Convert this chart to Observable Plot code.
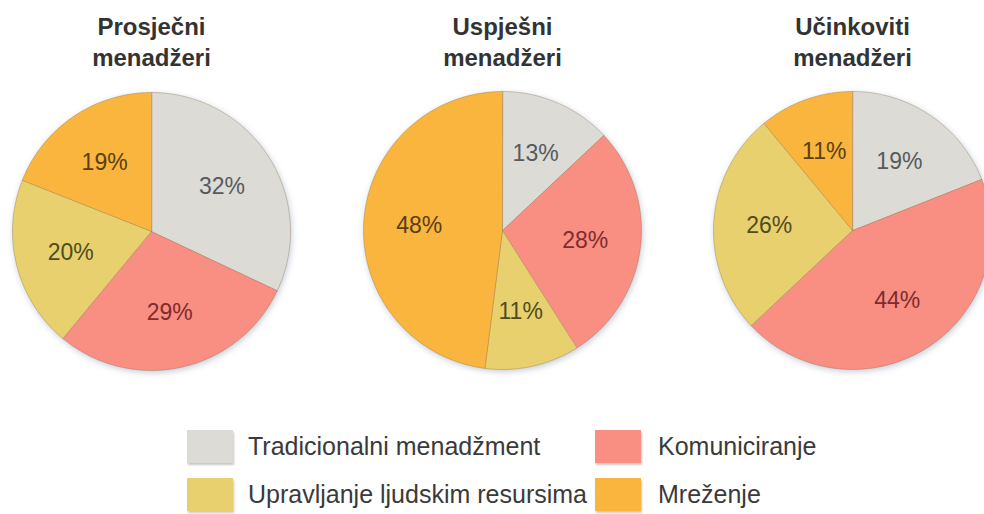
<!DOCTYPE html>
<html>
<head>
<meta charset="utf-8">
<script src="https://cdn.jsdelivr.net/npm/d3@7"></script>
<script src="https://cdn.jsdelivr.net/npm/@observablehq/plot@0.6"></script>
<style>
  html, body { margin: 0; padding: 0; background: #fff; }
  body { width: 984px; height: 514px; overflow: hidden; font-family: "Liberation Sans", Arial, sans-serif; }
  #legend { position: relative; width: 984px; height: 100px; }
  .sw { position: absolute; width: 46px; height: 33px; box-shadow: 1px 2px 2px rgba(0,0,0,0.22); }
  .lb { position: absolute; font-size: 25px; color: #3a3a3a; line-height: 33px; white-space: nowrap; }
</style>
</head>
<body>
<div id="chart"></div>
<div id="legend"></div>
<script>
// ---- data ----
const categories = ["Tradicionalni menadžment", "Komuniciranje", "Upravljanje ljudskim resursima", "Mreženje"];
const groupTitles = ["Prosječni\nmenadžeri", "Uspješni\nmenadžeri", "Učinkoviti\nmenadžeri"];
const prosjecni = [32, 29, 20, 19];
const uspjesni = [13, 28, 11, 48];
const ucinkoviti = [19, 44, 26, 11];
const seriesValues = [prosjecni, uspjesni, ucinkoviti];

// ---- styles / layout ----
const colors = ["#dcdbd6", "#f98e83", "#e8d06e", "#f9b53e"];
const labelColors = ["#555a5e", "#7e2c2c", "#514b1e", "#5a4012"];
const centers = [[151, 231], [502, 230], [852, 230]];
const R = 139;
const W = 984, H = 414;

const pie = d3.pie().sort(null).value(d => d.value).startAngle(0).endAngle(2 * Math.PI);

const slicePts = [];
const labels = [];
const titles = [];
seriesValues.forEach((vals, gi) => {
  const [cx, cy] = centers[gi];
  const rows = vals.map((v, i) => ({category: categories[i], value: v, idx: i}));
  const arcs = pie(rows);
  arcs.forEach(a => {
    const key = gi + "-" + a.data.idx;
    slicePts.push({key, category: a.data.category, x: cx, y: cy});
    const n = Math.max(2, Math.ceil((a.endAngle - a.startAngle) / (Math.PI / 180)));
    for (let k = 0; k <= n; k++) {
      const t = a.startAngle + (a.endAngle - a.startAngle) * k / n;
      slicePts.push({key, category: a.data.category, x: cx + R * Math.sin(t), y: cy - R * Math.cos(t)});
    }
    const m = (a.startAngle + a.endAngle) / 2;
    labels.push({
      x: cx + 0.6 * R * Math.sin(m),
      y: cy - 0.6 * R * Math.cos(m),
      text: a.data.value + "%",
      color: labelColors[a.data.idx]
    });
  });
  titles.push({x: cx, y: 40, text: groupTitles[gi]});
});

const chart = Plot.plot({
  width: W,
  height: H,
  margin: 0,
  style: {background: "#fff", fontFamily: "'Liberation Sans', Arial, sans-serif", overflow: "visible"},
  x: {domain: [0, W], range: [0, W], axis: null},
  y: {domain: [0, H], range: [0, H], axis: null},
  color: {domain: categories, range: colors},
  marks: [
    Plot.line(slicePts, {
      x: "x", y: "y", z: "key", fill: "category",
      curve: "linear-closed",
      stroke: "#8a6a40", strokeOpacity: 0.35, strokeWidth: 1
    }),
    Plot.text(labels, {
      x: "x", y: "y", text: "text", fill: d => d.color,
      fontSize: 23, textAnchor: "middle", lineAnchor: "middle"
    }),
    Plot.text(titles, {
      x: "x", y: "y", text: "text", fill: "#333",
      fontSize: 24, fontWeight: "bold", textAnchor: "middle",
      lineAnchor: "middle", lineHeight: 1.3
    })
  ]
});
document.getElementById("chart").appendChild(chart);

// soft shadow on pies
const lineGroup = chart.querySelector('g[aria-label="line"]');
if (lineGroup) lineGroup.style.filter = "drop-shadow(1px 2px 3px rgba(90,110,140,0.35))";

// ---- legend ----
const legend = document.getElementById("legend");
const legendPos = [
  {sx: 187, tx: 248, top: 16},
  {sx: 595, tx: 658, top: 16},
  {sx: 187, tx: 248, top: 64},
  {sx: 595, tx: 658, top: 64}
];
categories.forEach((c, i) => {
  const p = legendPos[i];
  const sw = document.createElement("div");
  sw.className = "sw";
  sw.style.left = p.sx + "px";
  sw.style.top = p.top + "px";
  sw.style.background = colors[i];
  legend.appendChild(sw);
  const lb = document.createElement("div");
  lb.className = "lb";
  lb.style.left = p.tx + "px";
  lb.style.top = p.top + "px";
  lb.textContent = c;
  legend.appendChild(lb);
});
</script>
</body>
</html>
